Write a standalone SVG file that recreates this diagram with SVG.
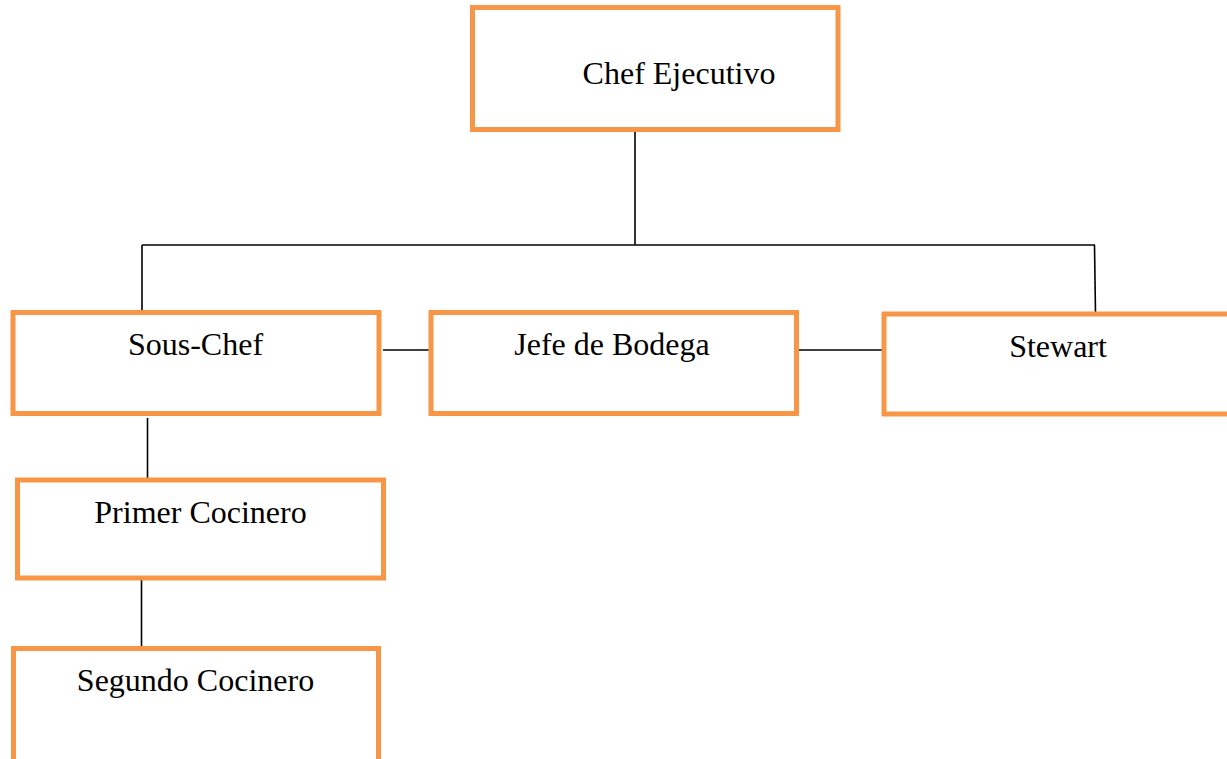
<svg xmlns="http://www.w3.org/2000/svg" width="1227" height="759" viewBox="0 0 1227 759">
<style>
.box{fill:#fff;stroke:#F79646;stroke-width:5}
.lbl{font-family:"Liberation Serif","Times New Roman",serif;font-size:32px;fill:#000;text-anchor:middle}
.ln{stroke:#000;stroke-width:1.6;fill:none}
</style>
<rect width="1227" height="759" fill="#fff"/>
<g id="connectors">
<line class="ln" x1="635" y1="132" x2="635" y2="245"/>
<line class="ln" x1="142" y1="245" x2="1095" y2="245"/>
<line class="ln" x1="142" y1="245" x2="142" y2="311"/>
<line class="ln" x1="1094.5" y1="245" x2="1095.5" y2="313"/>
<line class="ln" x1="383" y1="350" x2="430" y2="350"/>
<line class="ln" x1="797" y1="350" x2="883" y2="350"/>
<line class="ln" x1="147.5" y1="418" x2="147.5" y2="479"/>
<line class="ln" x1="141.5" y1="579" x2="141.5" y2="647"/>
</g>
<g id="chef-ejecutivo">
<rect class="box" x="472.5" y="7.5" width="365.5" height="122"/>
<text class="lbl" x="679" y="84">Chef Ejecutivo</text>
</g>
<g id="sous-chef">
<rect class="box" x="13" y="312.5" width="366" height="101"/>
<text class="lbl" x="195.5" y="355">Sous-Chef</text>
</g>
<g id="jefe-de-bodega">
<rect class="box" x="431" y="312.5" width="365.5" height="101"/>
<text class="lbl" x="612" y="355">Jefe de Bodega</text>
</g>
<g id="stewart">
<rect class="box" x="884" y="314" width="365" height="100"/>
<text class="lbl" x="1058" y="357">Stewart</text>
</g>
<g id="primer-cocinero">
<rect class="box" x="17.5" y="480" width="366" height="98"/>
<text class="lbl" x="200.5" y="523">Primer Cocinero</text>
</g>
<g id="segundo-cocinero">
<rect class="box" x="13.5" y="648.5" width="365" height="130"/>
<text class="lbl" x="195.5" y="691">Segundo Cocinero</text>
</g>
</svg>
